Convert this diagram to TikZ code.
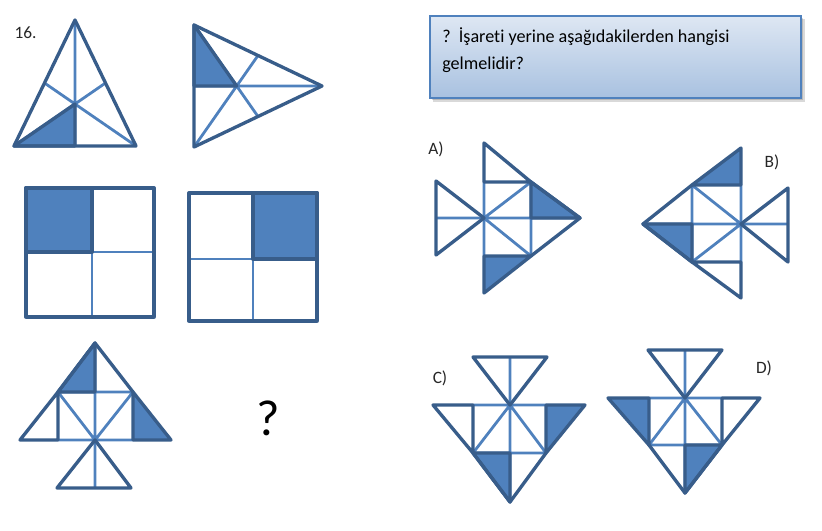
\documentclass[tikz,border=0pt]{standalone}
\usepackage{fontspec}
\setmainfont{Carlito}[Ligatures=NoCommon]
\usetikzlibrary{positioning}
\definecolor{edgeblue}{RGB}{56,93,138}
\definecolor{fillblue}{RGB}{79,129,189}
\definecolor{boxtop}{RGB}{222,231,243}
\definecolor{boxbottom}{RGB}{168,193,224}

\begin{document}
\begin{tikzpicture}[
    x=0.75pt, y=-0.75pt,
    outer/.style={draw=edgeblue, line width=2.5pt, line join=round, line cap=round},
    inner/.style={draw=fillblue, line width=2.1pt},
    piece/.style={fill=fillblue, draw=edgeblue, line width=2.5pt, line join=round},
    optlabel/.style={font=\fontsize{13}{15}\selectfont, text=black!85}
]
\useasboundingbox (0,0) rectangle (822,531);

% question box
\fill[black, opacity=0.15] (433,19) rectangle (805,102);
\fill[black, opacity=0.15] (432,18) rectangle (803,100);
\shade[top color=boxtop, bottom color=boxbottom, draw=fillblue, line width=0.8pt] (430,16) rectangle (801,98);
\node[anchor=north west, inner sep=0pt, align=left, font=\fontsize{13.6}{20.25}\selectfont] (question) at (442,27)
    {?\ \ İşareti yerine aşağıdakilerden hangisi\\gelmelidir?};

\node[optlabel] (qnum) at (25.5,32.5) {16.};

% triangle 1
\draw[inner] (75,20) -- (75,146) (14,146) -- (105.5,83) (136,146) -- (44.5,83);
\draw[piece] (14,146) -- (75,104) -- (75,146) -- cycle;
\draw[outer] (75,20) -- (14,146) -- (136,146) -- cycle;

% triangle 2
\draw[inner] (322,86) -- (194,86) (194,25) -- (258,116.5) (194,147) -- (258,55.5);
\draw[piece] (194,25) -- (236.7,86) -- (194,86) -- cycle;
\draw[outer] (194,25) -- (322,86) -- (194,147) -- cycle;

% squares
\draw[inner] (92,188) -- (92,317) (26,252) -- (154,252);
\draw[piece] (26,188) rectangle (92,252);
\draw[outer] (26,188) rectangle (154,317);

\draw[inner] (253,193) -- (253,321) (189,259) -- (317,259);
\draw[piece] (253,193) rectangle (317,259);
\draw[outer] (189,193) rectangle (317,321);

% given figure
\draw[inner] (95,343) -- (95,488) (58,392) -- (133,392) (58,440) -- (133,440) (58,392) -- (95,440) -- (133,392);
\draw[piece] (58,392) -- (95,343) -- (95,392) -- cycle;
\draw[piece] (133,392) -- (171,440) -- (133,440) -- cycle;
\draw[outer] (58,392) -- (95,343) -- (133,392);
\draw[outer] (58,392) -- (20,440) -- (58,440) -- cycle;
\draw[outer] (95,440) -- (57,488) -- (131,488) -- cycle;

\node[font=\fontsize{38}{40}\selectfont] (missing) at (268,418) {?};

% option A
\node[optlabel] (labA) at (436,149) {A)};
\draw[inner] (436,218) -- (580,218) (484,182) -- (484,256) (531,182) -- (531,256) (531,182) -- (484,218) -- (531,256);
\draw[piece] (531,182) -- (580,218) -- (531,218) -- cycle;
\draw[piece] (484,256) -- (531,256) -- (484,293) -- cycle;
\draw[outer] (484,143) -- (531,182) -- (484,182) -- cycle;
\draw[outer] (484,218) -- (436,181) -- (436,255) -- cycle;
\draw[outer] (531,182) -- (580,218) -- (531,256);

% option B
\node[optlabel] (labB) at (772,162) {B)};
\draw[inner] (643,224) -- (788,224) (692,185) -- (692,262) (741,185) -- (741,262) (692,185) -- (741,224) -- (692,262);
\draw[piece] (692,185) -- (741,148) -- (741,185) -- cycle;
\draw[piece] (643,224) -- (692,224) -- (692,262) -- cycle;
\draw[outer] (692,185) -- (643,224) -- (692,262);
\draw[outer] (741,224) -- (788,188) -- (788,262) -- cycle;
\draw[outer] (692,262) -- (741,262) -- (741,298) -- cycle;

% option C
\node[optlabel] (labC) at (440,378) {C)};
\draw[inner] (510,357) -- (510,502) (473,405) -- (546,405) (473,453) -- (546,453) (473,453) -- (510,405) -- (546,453);
\draw[piece] (546,405) -- (585,405) -- (546,453) -- cycle;
\draw[piece] (473,453) -- (510,453) -- (510,502) -- cycle;
\draw[outer] (473,357) -- (547,357) -- (510,405) -- cycle;
\draw[outer] (473,405) -- (433,405) -- (473,453) -- cycle;
\draw[outer] (473,453) -- (510,502) -- (546,453);

% option D
\node[optlabel] (labD) at (764,368) {D)};
\draw[inner] (685,350) -- (685,493) (649,398) -- (722,398) (649,445) -- (722,445) (649,445) -- (685,398) -- (722,445);
\draw[piece] (608,398) -- (649,398) -- (649,445) -- cycle;
\draw[piece] (685,445) -- (722,445) -- (685,493) -- cycle;
\draw[outer] (648,350) -- (722,350) -- (685,398) -- cycle;
\draw[outer] (722,398) -- (760,398) -- (722,445) -- cycle;
\draw[outer] (649,445) -- (685,493) -- (722,445);
\end{tikzpicture}
\end{document}
